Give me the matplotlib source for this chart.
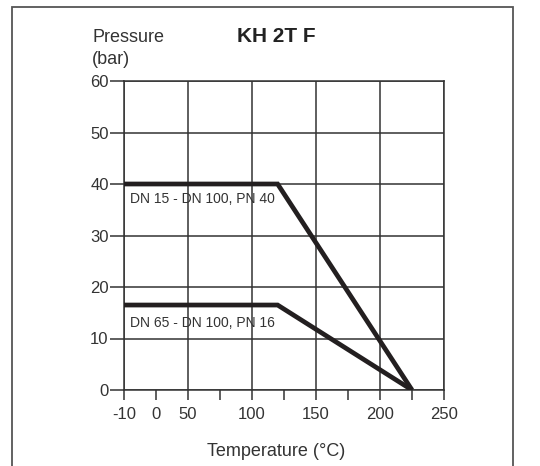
"""Pressure/temperature rating chart for KH 2T F valves."""
import matplotlib
matplotlib.use('Agg')
import matplotlib.pyplot as plt
import numpy as np
from matplotlib.patches import Rectangle
from matplotlib.scale import FuncScale

plt.rcParams['font.family'] = ['Liberation Sans', 'DejaVu Sans']

# rating curves (temperature in degC, pressure in bar)
pn40_temp = [-10, 120, 225]
pn40_pres = [40, 40, 0]
pn16_temp = [-10, 120, 225]
pn16_pres = [16.5, 16.5, 0]

x_major = [-10, 50, 100, 150, 200, 250]
x_minor = [0, 75, 125, 175, 225]
y_ticks = [0, 10, 20, 30, 40, 50, 60]

# the source drawing squeezes the -10..50 range
real_pts = np.array([-10.0, 0.0, 50.0, 250.0])
axis_pts = np.array([0.0, 25.0, 50.0, 250.0])

def fwd(v):
    return np.interp(v, real_pts, axis_pts, left=-np.inf, right=np.inf)

def inv(v):
    return np.interp(v, axis_pts, real_pts)

ink = '#231f20'
grid_c = '#333333'
text_c = '#333333'

fig = plt.figure(figsize=(5.4, 4.66), dpi=100)
W, H = 540, 466
ax = fig.add_axes([124 / W, 1 - 390 / H, 320 / W, 309 / H])
ax.set_xscale(FuncScale(ax, (fwd, inv)))
ax.set_xlim(-10, 250)
ax.set_ylim(0, 60)

ax.plot(pn40_temp, pn40_pres, color=ink, lw=3.4, solid_joinstyle='miter', solid_capstyle='butt', zorder=3)
ax.plot(pn16_temp, pn16_pres, color=ink, lw=3.4, solid_joinstyle='miter', solid_capstyle='butt', zorder=3)

ax.set_xticks(x_major)
ax.set_xticklabels([str(v) for v in x_major])
ax.set_xticks(x_minor, minor=True)
ax.set_xticklabels(['0', '', '', '', ''], minor=True)
ax.set_yticks(y_ticks)
ax.grid(True, which='major', color=grid_c, lw=1.1)
ax.set_axisbelow(True)
for s in ax.spines.values():
    s.set_color(grid_c)
    s.set_linewidth(1.1)

ax.tick_params(axis='x', which='both', direction='out', length=7, width=1.1, color=grid_c,
               labelsize=12, labelcolor=text_c, pad=5)
ax.tick_params(axis='y', direction='out', length=10, width=1.1, color=grid_c,
               labelsize=12, labelcolor=text_c, pad=1)

ax.text(-8.1, 37.0, 'DN 15 - DN 100, PN 40', fontsize=10, color=text_c, va='center', ha='left')
ax.text(-8.1, 13.1, 'DN 65 - DN 100, PN 16', fontsize=10, color=text_c, va='center', ha='left')

fig.text(92 / W, 1 - 37 / H, 'Pressure', fontsize=13, color=text_c, va='center', ha='left')
fig.text(92 / W, 1 - 60 / H, '(bar)', fontsize=13, color=text_c, va='center', ha='left')
fig.text(276 / W, 1 - 37 / H, 'KH 2T F', fontsize=15, fontweight='bold', color='#222222',
         va='center', ha='center')
fig.text(276 / W, 1 - 452 / H, 'Temperature (°C)', fontsize=13, color=text_c, va='center', ha='center')

frame = Rectangle((12 / W, -0.2), (513 - 12) / W, 1.2 - 7 / H, transform=fig.transFigure,
                  fill=False, edgecolor='#555555', lw=1.3)
fig.patches.append(frame)

fig.savefig('out.png', dpi=100)
plt.close(fig)
